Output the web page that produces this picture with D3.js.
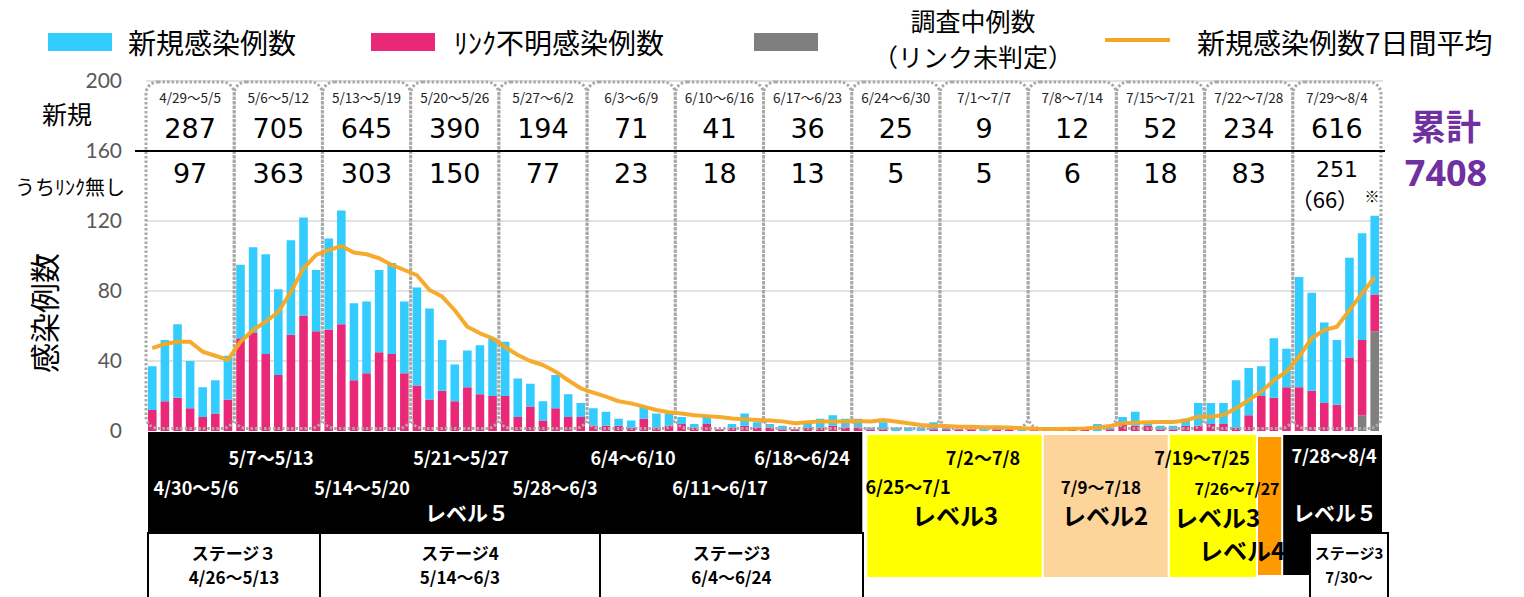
<!DOCTYPE html>
<html>
<head>
<meta charset="utf-8">
<script src="https://cdn.jsdelivr.net/npm/d3@7"></script>
<style>
    body { margin: 0; background: #fff; }
    svg { display: block; font-family: "Noto Sans CJK JP", "Noto Sans", sans-serif; }
</style>
</head>
<body>
<svg id="chart"></svg>
<script>

// daily values 4/29 - 8/4
var newCases = [
    37, 52, 61, 40, 25, 29, 43,
    95, 105, 101, 81, 109, 122, 92,
    110, 126, 73, 74, 92, 96, 74,
    82, 70, 52, 38, 46, 49, 53,
    51, 30, 27, 17, 32, 21, 16,
    13, 11, 7, 6, 14, 10, 10,
    8, 4, 9, 1, 4, 10, 5,
    4, 3, 1, 5, 7, 9, 7,
    7, 2, 5, 2, 2, 2, 5,
    2, 1, 1, 1, 2, 1, 1,
    1, 1, 1, 1, 2, 4, 2,
    8, 11, 4, 3, 3, 7, 16,
    16, 16, 29, 36, 37, 53, 47,
    88, 79, 62, 52, 99, 113, 123
];
var unknownCases = [
    12, 17, 19, 13, 8, 10, 18,
    53, 56, 44, 32, 55, 66, 57,
    58, 61, 29, 33, 45, 44, 33,
    26, 18, 23, 17, 25, 21, 20,
    20, 8, 14, 6, 13, 8, 8,
    3, 3, 3, 2, 7, 2, 3,
    4, 2, 4, 1, 2, 3, 2,
    2, 1, 1, 2, 2, 3, 2,
    2, 1, 1, 0, 0, 0, 1,
    1, 1, 1, 0, 1, 1, 0,
    1, 1, 1, 1, 1, 0, 1,
    4, 3, 3, 1, 1, 3, 3,
    4, 4, 2, 9, 20, 19, 25,
    25, 23, 16, 15, 42, 43, 21
];
var checkingCases = [
    0, 0, 0, 0, 0, 0, 0,
    0, 0, 0, 0, 0, 0, 0,
    0, 0, 0, 0, 0, 0, 0,
    0, 0, 0, 0, 0, 0, 0,
    0, 0, 0, 0, 0, 0, 0,
    0, 0, 0, 0, 0, 0, 0,
    0, 0, 0, 0, 0, 0, 0,
    0, 0, 0, 0, 0, 0, 0,
    0, 0, 0, 0, 0, 0, 0,
    0, 0, 0, 0, 0, 0, 0,
    0, 0, 0, 0, 0, 0, 0,
    0, 0, 0, 0, 0, 0, 0,
    0, 0, 0, 0, 0, 0, 0,
    0, 0, 0, 0, 0, 9, 57
];
var avg7 = [
    47.4, 49.7, 51, 51, 45.3, 43, 40.6,
    51, 57.7, 62.5, 68, 79.6, 93, 100.6,
    103.4, 105.7, 102, 101, 98.7, 94.9, 92,
    89, 80.6, 76.8, 69, 59.6, 55.8, 53,
    48, 43.4, 40, 37.7, 33.9, 29, 24.4,
    21.9, 19.6, 17, 15.8, 13.9, 12, 10.7,
    10, 9, 8.5, 8, 7.2, 6.7, 6.3,
    6, 5.5, 4.4, 5, 5.5, 5.5, 5.5,
    5.7, 5.4, 6.3, 5.4, 4.4, 3.4, 3,
    2.8, 2.5, 2.5, 2.2, 2.2, 2, 1.6,
    1.3, 1.2, 1.2, 1.3, 1.5, 2, 2.8,
    4.4, 4.7, 5, 5.2, 5.2, 6, 8.2,
    8.2, 9.1, 13, 17.7, 22.5, 29, 33.9,
    42.5, 53, 57.7, 59.6, 69, 78.7, 87.8
];

// weekly table
var weekRanges = ["4/29～5/5", "5/6～5/12", "5/13～5/19", "5/20～5/26", "5/27～6/2", "6/3～6/9", "6/10～6/16",
    "6/17～6/23", "6/24～6/30", "7/1～7/7", "7/8～7/14", "7/15～7/21", "7/22～7/28", "7/29～8/4"];
var weekNew = [287, 705, 645, 390, 194, 71, 41, 36, 25, 9, 12, 52, 234, 616];
var weekUnknown = [97, 363, 303, 150, 77, 23, 18, 13, 5, 5, 6, 18, 83, 251];
var weekChecking = [0, 0, 0, 0, 0, 0, 0, 0, 0, 0, 0, 0, 0, 66];
var totalCases = 7408;
var yTicks = [0, 40, 80, 120, 160, 200];

// alert levels (start / end day)
var levelFrom = ["4/29", "6/25", "7/9", "7/19", "7/26", "7/28"];
var levelTo = ["6/24", "7/8", "7/18", "7/25", "7/27", "8/4"];
var levelColors = ["#000000", "#ffff00", "#fdd59b", "#ffff00", "#ff9900", "#000000"];

var days = d3.timeDay.range(new Date(2021, 3, 29), new Date(2021, 7, 5));

var width = 1524, height = 597;

var svg = d3.select("#chart")
    .attr("width", width)
    .attr("height", height);

var x = d3.scaleBand().domain(days).range([146, 1381]).paddingInner(0.32).paddingOuter(0.16);
var y = d3.scaleLinear().domain([0, 200]).range([431, 81]);
var bw = x.bandwidth();

function dayIndex(s) {
    var p = s.split("/");
    return d3.timeDay.count(days[0], new Date(2021, +p[0] - 1, +p[1]));
}

// grid
svg.append("g").selectAll("line")
    .data(yTicks.filter(function (t) { return t > 0 && t != 160; }))
    .enter().append("line")
    .attr("x1", 146).attr("x2", 1383)
    .attr("y1", function (d) { return y(d); })
    .attr("y2", function (d) { return y(d); })
    .attr("stroke", "#d9d9d9").attr("stroke-width", 1.5);

svg.append("g").selectAll("text")
    .data(yTicks)
    .enter().append("text")
    .attr("x", 122)
    .attr("y", function (d) { return y(d); })
    .attr("dy", "0.35em")
    .attr("text-anchor", "end")
    .attr("font-family", "Lato, sans-serif")
    .attr("font-size", 21)
    .attr("fill", "#595959")
    .text(function (d) { return d; });

// stacked bars
var rows = days.map(function (d, i) {
    return {
        date: d,
        checking: checkingCases[i],
        unknown: unknownCases[i],
        linked: newCases[i] - unknownCases[i] - checkingCases[i]
    };
});
var stack = d3.stack().keys(["checking", "unknown", "linked"]);
var colors = {checking: "#7f7f7f", unknown: "#ea2878", linked: "#33ccff"};

svg.append("g").selectAll("g")
    .data(stack(rows))
    .enter().append("g")
    .attr("fill", function (s) { return colors[s.key]; })
    .selectAll("rect")
    .data(function (s) { return s; })
    .enter().append("rect")
    .attr("x", function (d) { return x(d.data.date); })
    .attr("width", bw)
    .attr("y", function (d) { return y(d[1]); })
    .attr("height", function (d) { return y(d[0]) - y(d[1]); });

// weekly dotted boxes
var weeks = d3.range(weekRanges.length);
svg.append("g").selectAll("rect")
    .data(weeks)
    .enter().append("rect")
    .attr("x", function (k) { return x(days[k * 7]) - 2; })
    .attr("width", function (k) { return x(days[k * 7 + 6]) + bw + 2 - (x(days[k * 7]) - 2); })
    .attr("y", y(199.5))
    .attr("height", y(1.5) - y(199.5))
    .attr("rx", 12)
    .attr("fill", "none")
    .attr("stroke", "#a9a9a9")
    .attr("stroke-width", 3)
    .attr("stroke-dasharray", "2.5 2");

// 7 day average
var line = d3.line()
    .x(function (d, i) { return x(days[i]) + bw / 2; })
    .y(function (d) { return y(d); });

svg.append("path")
    .datum(avg7)
    .attr("d", line)
    .attr("fill", "none")
    .attr("stroke", "#f5a623")
    .attr("stroke-width", 4)
    .attr("stroke-linejoin", "round")
    .attr("opacity", 0.95);

// table separator
svg.append("line")
    .attr("x1", 135).attr("x2", 1385)
    .attr("y1", y(160)).attr("y2", y(160))
    .attr("stroke", "#000").attr("stroke-width", 2);

// week texts
function weekCenter(k) { return (x(days[k * 7]) + x(days[k * 7 + 6]) + bw) / 2; }

svg.append("g").selectAll("text")
    .data(weeks)
    .enter().append("text")
    .attr("x", weekCenter).attr("y", 97)
    .attr("text-anchor", "middle").attr("dominant-baseline", "central")
    .attr("font-size", 13.5).attr("fill", "#222")
    .text(function (k) { return weekRanges[k]; });

svg.append("g").selectAll("text")
    .data(weeks)
    .enter().append("text")
    .attr("x", weekCenter).attr("y", 128)
    .attr("text-anchor", "middle").attr("dominant-baseline", "central")
    .attr("font-family", "DejaVu Sans, sans-serif")
    .attr("font-size", 27).attr("fill", "#000")
    .text(function (k) { return weekNew[k]; });

svg.append("g").selectAll("text")
    .data(weeks)
    .enter().append("text")
    .attr("x", weekCenter)
    .attr("y", function (k) { return weekChecking[k] ? 169 : 173; })
    .attr("text-anchor", "middle").attr("dominant-baseline", "central")
    .attr("font-family", "DejaVu Sans, sans-serif")
    .attr("font-size", function (k) { return weekChecking[k] ? 22 : 27; })
    .attr("fill", "#000")
    .text(function (k) { return weekUnknown[k]; });

svg.append("g").selectAll("text")
    .data(weeks.filter(function (k) { return weekChecking[k] > 0; }))
    .enter().append("text")
    .attr("x", function (k) { return weekCenter(k) - 12; }).attr("y", 198)
    .attr("text-anchor", "middle").attr("dominant-baseline", "central")
    .attr("font-size", 22).attr("fill", "#000")
    .text(function (k) { return "（" + weekChecking[k] + "）"; });

svg.append("text")
    .attr("x", weekCenter(13) + 35).attr("y", 195)
    .attr("text-anchor", "middle").attr("dominant-baseline", "central")
    .attr("font-size", 15).attr("fill", "#000")
    .text("※");

// row labels and axis title
svg.append("text").attr("x", 67).attr("y", 113)
    .attr("text-anchor", "middle").attr("dominant-baseline", "central")
    .attr("font-size", 25).text("新規");
svg.append("text").attr("x", 70).attr("y", 186)
    .attr("text-anchor", "middle").attr("dominant-baseline", "central")
    .attr("font-size", 20).text("うちﾘﾝｸ無し");
svg.append("text")
    .attr("transform", "translate(43,313) rotate(-90)")
    .attr("text-anchor", "middle").attr("dominant-baseline", "central")
    .attr("font-size", 30).text("感染例数");

// cumulative
svg.append("text").attr("x", 1446).attr("y", 124)
    .attr("text-anchor", "middle").attr("dominant-baseline", "central")
    .attr("font-size", 35).attr("font-weight", "bold").attr("fill", "#7030a0")
    .text("累計");
svg.append("text").attr("x", 1446).attr("y", 172)
    .attr("text-anchor", "middle").attr("dominant-baseline", "central")
    .attr("font-family", "Noto Sans, sans-serif")
    .attr("font-size", 36).attr("font-weight", "bold").attr("fill", "#7030a0")
    .text(totalCases);

// legend
var legend = svg.append("g");
legend.append("rect").attr("x", 48).attr("y", 33).attr("width", 64).attr("height", 18).attr("fill", "#33ccff");
legend.append("text").attr("x", 128).attr("y", 42).attr("dominant-baseline", "central")
    .attr("font-size", 28).text("新規感染例数");
legend.append("rect").attr("x", 371).attr("y", 33).attr("width", 64).attr("height", 18).attr("fill", "#ea2878");
legend.append("text").attr("x", 454).attr("y", 42).attr("dominant-baseline", "central")
    .attr("font-size", 28).text("ﾘﾝｸ不明感染例数");
legend.append("rect").attr("x", 754).attr("y", 33).attr("width", 64).attr("height", 18).attr("fill", "#7f7f7f");
legend.append("text").attr("x", 973).attr("y", 20).attr("text-anchor", "middle").attr("dominant-baseline", "central")
    .attr("font-size", 25).text("調査中例数");
legend.append("text").attr("x", 973).attr("y", 56).attr("text-anchor", "middle").attr("dominant-baseline", "central")
    .attr("font-size", 25).text("（リンク未判定）");
legend.append("line").attr("x1", 1105).attr("x2", 1170).attr("y1", 40).attr("y2", 40)
    .attr("stroke", "#f5a623").attr("stroke-width", 4);
legend.append("text").attr("x", 1197).attr("y", 42).attr("dominant-baseline", "central")
    .attr("font-size", 28).text("新規感染例数7日間平均");

// level bands under the chart
var bands = svg.append("g");
levelFrom.forEach(function (f, i) {
    var a = dayIndex(f), b = dayIndex(levelTo[i]);
    var first = i == 0;
    var left = first ? x(days[a]) : x(days[a]) + 1;
    var right = first ? x(days[b]) + bw : x(days[b]) + bw + 3;
    var y0 = first ? 432 : (levelColors[i] == "#ff9900" ? 437 : 435);
    var y1 = first ? 533 : (i == 5 || levelColors[i] == "#ff9900" ? 575 : 577);
    bands.append("rect")
        .attr("x", left)
        .attr("width", right - left)
        .attr("y", y0).attr("height", y1 - y0)
        .attr("fill", levelColors[i]);
});

// stage boxes
var stageBoxes = [
    {x0: 148, x1: 320, t1: "ステージ３", t2: "4/26～5/13", size: 17},
    {x0: 320, x1: 600, t1: "ステージ4", t2: "5/14～6/3", size: 17},
    {x0: 600, x1: 863, t1: "ステージ3", t2: "6/4～6/24", size: 17},
    {x0: 1310, x1: 1388, t1: "ステージ3", t2: "7/30～", size: 15}
];
stageBoxes.forEach(function (s) {
    bands.append("rect").attr("x", s.x0).attr("y", 533).attr("width", s.x1 - s.x0).attr("height", 70)
        .attr("fill", "#fff").attr("stroke", "#000").attr("stroke-width", 2);
    bands.append("text").attr("x", (s.x0 + s.x1) / 2).attr("y", 552)
        .attr("text-anchor", "middle").attr("dominant-baseline", "central")
        .attr("font-size", s.size).attr("font-weight", "bold").text(s.t1);
    bands.append("text").attr("x", (s.x0 + s.x1) / 2).attr("y", 576)
        .attr("text-anchor", "middle").attr("dominant-baseline", "central")
        .attr("font-size", s.size).attr("font-weight", "bold").text(s.t2);
});

// band labels: text, cx, cy, size, colour
var bandLabels = [
    ["5/7～5/13", 271, 457, 18, "#fff"], ["5/21～5/27", 461, 457, 18, "#fff"],
    ["6/4～6/10", 633, 457, 18, "#fff"], ["6/18～6/24", 802, 457, 18, "#fff"],
    ["4/30～5/6", 196, 487, 18, "#fff"], ["5/14～5/20", 362, 487, 18, "#fff"],
    ["5/28～6/3", 555, 487, 18, "#fff"], ["6/11～6/17", 720, 487, 18, "#fff"],
    ["レベル５", 467, 512, 21, "#fff"],
    ["7/2～7/8", 983, 457, 18, "#000"], ["6/25～7/1", 908, 486, 18, "#000"],
    ["レベル3", 955, 514, 24, "#000"],
    ["7/9～7/18", 1101, 486, 17, "#000"], ["レベル2", 1105, 514, 24, "#000"],
    ["7/19～7/25", 1202, 457, 18, "#000"], ["7/26～7/27", 1237, 488, 16, "#000"],
    ["レベル3", 1217, 516, 24, "#000"], ["レベル4", 1242, 549, 24, "#000"],
    ["7/28～8/4", 1334, 455, 18, "#fff"], ["レベル５", 1335, 512, 21, "#fff"]
];
bands.selectAll("text.lab")
    .data(bandLabels)
    .enter().append("text")
    .attr("class", "lab")
    .attr("x", function (d) { return d[1]; })
    .attr("y", function (d) { return d[2]; })
    .attr("text-anchor", "middle").attr("dominant-baseline", "central")
    .attr("font-size", function (d) { return d[3]; })
    .attr("font-weight", "bold")
    .attr("fill", function (d) { return d[4]; })
    .text(function (d) { return d[0]; });

</script>
</body>
</html>
